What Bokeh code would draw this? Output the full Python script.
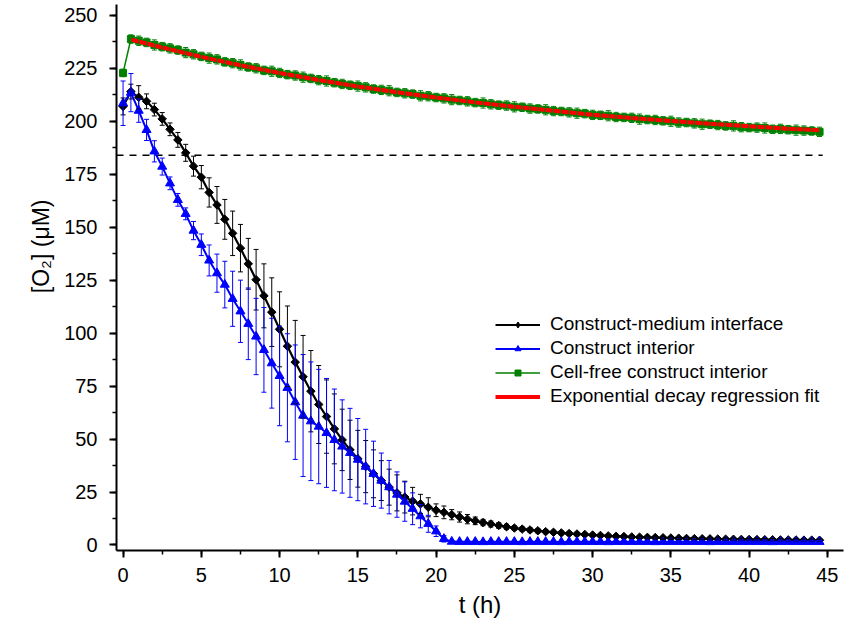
import math
from bokeh.plotting import figure
from bokeh.models import (ColumnDataSource, Whisker, TeeHead, Legend, LegendItem,
                          Range1d, SingleIntervalTicker, Title)
from bokeh.embed import file_html
from bokeh.resources import INLINE

# ---------------- data ----------------
t_h = [0.0, 0.5, 1.0, 1.5, 2.0, 2.5, 3.0, 3.5, 4.0, 4.5, 5.0, 5.5, 6.0, 6.5, 7.0, 7.5,
       8.0, 8.5, 9.0, 9.5, 10.0, 10.5, 11.0, 11.5, 12.0, 12.5, 13.0, 13.5, 14.0, 14.5,
       15.0, 15.5, 16.0, 16.5, 17.0, 17.5, 18.0, 18.5, 19.0, 19.5, 20.0, 20.5, 21.0,
       21.5, 22.0, 22.5, 23.0, 23.5, 24.0, 24.5, 25.0, 25.5, 26.0, 26.5, 27.0, 27.5,
       28.0, 28.5, 29.0, 29.5, 30.0, 30.5, 31.0, 31.5, 32.0, 32.5, 33.0, 33.5, 34.0,
       34.5, 35.0, 35.5, 36.0, 36.5, 37.0, 37.5, 38.0, 38.5, 39.0, 39.5, 40.0, 40.5,
       41.0, 41.5, 42.0, 42.5, 43.0, 43.5, 44.0, 44.5]

interface_uM = [207.0, 214.0, 211.3, 209.4, 205.5, 201.1, 196.2, 191.2, 185.1, 178.8,
                173.6, 166.4, 160.5, 153.7, 147.1, 140.1, 132.7, 125.2, 117.6, 109.9,
                101.8, 93.8, 86.3, 79.4, 72.6, 66.3, 60.6, 54.8, 49.6, 44.9,
                40.7, 37.0, 33.6, 30.4, 27.3, 24.6, 22.6, 20.7, 19.4, 17.8,
                16.4, 15.4, 14.3, 13.2, 12.2, 11.4, 10.6, 9.9, 9.2, 8.6,
                8.0, 7.5, 7.1, 6.7, 6.3, 6.0, 5.7, 5.4, 5.2, 5.0,
                4.7, 4.5, 4.3, 4.1, 4.0, 3.8, 3.7, 3.6, 3.5, 3.4,
                3.3, 3.2, 3.1, 3.0, 2.95, 2.9, 2.8, 2.75, 2.7, 2.65,
                2.6, 2.55, 2.5, 2.45, 2.4, 2.4, 2.35, 2.3, 2.3, 2.25]
interface_sd = [4.0, 3.5, 5.5, 3.5, 3.0, 3.0, 3.0, 3.5, 4.0, 4.7,
                5.5, 6.9, 8.7, 9.4, 10.5, 11.2, 12.0, 14.3, 15.1, 16.2,
                17.7, 19.0, 19.7, 19.5, 19.2, 18.4, 17.3, 16.5, 14.5, 14.0,
                13.4, 12.3, 11.3, 9.4, 8.5, 8.5, 7.5, 6.5, 4.5, 4.5,
                3.0, 3.0, 2.4, 2.4, 2.2, 1.8, 1.5, 1.4, 1.3, 1.2,
                1.1, 1.0, 1.0, 1.0, 0.9, 0.9, 0.9, 0.9, 0.8, 0.8,
                0.8, 0.8, 0.8, 0.7, 0.7, 0.7, 0.7, 0.7, 0.7, 0.7,
                0.6, 0.6, 0.6, 0.6, 0.6, 0.6, 0.6, 0.6, 0.6, 0.6,
                0.6, 0.6, 0.6, 0.6, 0.6, 0.6, 0.6, 0.6, 0.6, 0.6]

interior_uM = [208.5, 213.5, 205.0, 195.9, 185.8, 178.6, 170.7, 162.9, 156.3, 148.4,
               141.7, 134.3, 128.3, 122.9, 116.2, 110.3, 104.4, 98.4, 92.1, 85.8,
               79.8, 74.2, 67.4, 61.1, 58.4, 55.9, 52.9, 49.6, 46.5, 43.5,
               40.3, 37.0, 33.6, 30.4, 27.3, 23.8, 20.5, 17.1, 13.6, 10.0,
               6.5, 2.9, 1.6, 1.5, 1.5, 1.5, 1.4, 1.5, 1.5, 1.5,
               1.5, 1.4, 1.5, 1.5, 1.5, 1.5, 1.4, 1.5, 1.5, 1.5,
               1.5, 1.5, 1.4, 1.5, 1.5, 1.5, 1.5, 1.5, 1.4, 1.5,
               1.5, 1.5, 1.5, 1.5, 1.5, 1.4, 1.5, 1.5, 1.5, 1.5,
               1.5, 1.5, 1.5, 1.4, 1.5, 1.5, 1.5, 1.5, 1.5, 1.5]
interior_sd = [10.5, 9.0, 5.5, 5.0, 5.0, 4.0, 3.0, 3.0, 2.8, 4.3,
               5.1, 7.3, 9.0, 11.0, 13.0, 14.7, 16.9, 18.0, 20.0, 21.2,
               23.5, 25.5, 27.0, 28.8, 28.0, 27.0, 25.7, 24.0, 22.0, 21.0,
               19.4, 17.6, 15.4, 13.0, 12.6, 10.7, 9.3, 7.5, 5.5, 4.0,
               2.5, 1.5, 0.5, 0.4, 0.4, 0.4, 0.4, 0.4, 0.4, 0.4,
               0.4, 0.4, 0.4, 0.4, 0.4, 0.4, 0.4, 0.4, 0.4, 0.4,
               0.4, 0.4, 0.4, 0.4, 0.4, 0.4, 0.4, 0.4, 0.4, 0.4,
               0.4, 0.4, 0.4, 0.4, 0.4, 0.4, 0.4, 0.4, 0.4, 0.4,
               0.4, 0.4, 0.4, 0.4, 0.4, 0.4, 0.4, 0.4, 0.4, 0.4]

cellfree_uM = [222.8, 238.8, 238.0, 237.2, 236.0, 235.2, 234.4, 233.6, 232.4, 231.6,
               230.6, 229.8, 229.2, 228.0, 227.4, 226.6, 225.6, 225.0, 224.0, 223.6,
               222.8, 222.0, 221.6, 220.8, 220.2, 219.4, 219.0, 218.2, 217.6, 217.0,
               216.6, 216.0, 215.2, 214.8, 214.4, 213.6, 213.2, 212.8, 212.0, 211.8,
               211.2, 210.8, 210.2, 209.8, 209.4, 208.8, 208.6, 208.0, 207.6, 207.4,
               206.8, 206.6, 206.0, 205.8, 205.4, 204.8, 204.6, 204.2, 203.8, 203.6,
               203.0, 202.8, 202.6, 202.0, 201.8, 201.6, 201.0, 200.8, 200.6, 200.2,
               200.0, 199.4, 199.4, 199.0, 198.6, 198.6, 198.2, 197.8, 197.8, 197.2,
               197.0, 197.0, 196.8, 196.2, 196.4, 196.0, 195.8, 195.6, 195.4, 195.0]
cellfree_sd = [1.8, 2.0, 2.2, 2.0, 2.4, 2.0, 2.2, 2.0, 2.4, 2.2,
               2.0, 2.4, 2.2, 2.0, 2.2, 2.4, 2.0, 2.2, 2.0, 2.4,
               2.2, 2.0, 2.2, 2.4, 2.0, 2.2, 2.4, 2.0, 2.2, 2.0,
               2.4, 2.2, 2.0, 2.2, 2.4, 2.0, 2.2, 2.0, 2.4, 2.2,
               2.0, 2.2, 2.4, 2.0, 2.2, 2.0, 2.4, 2.2, 2.0, 2.2,
               2.4, 2.0, 2.2, 2.0, 2.4, 2.2, 2.0, 2.2, 2.4, 2.0,
               2.2, 2.0, 2.4, 2.2, 2.0, 2.2, 2.4, 2.0, 2.2, 2.0,
               2.4, 2.2, 2.0, 2.2, 2.4, 2.0, 2.2, 2.0, 2.4, 2.2,
               2.0, 2.2, 2.4, 2.0, 2.2, 2.0, 2.4, 2.2, 2.0, 2.2]

fit_t_h = [0.5, 2.5, 5.0, 7.5, 10.0, 12.5, 15.0, 17.5, 20.0, 22.5, 25.0, 27.5,
           30.0, 32.5, 35.0, 37.5, 40.0, 42.5, 44.5]
fit_uM = [238.6, 234.8, 230.4, 226.4, 222.8, 219.5, 216.4, 213.7, 211.2, 208.9,
          206.8, 204.9, 203.1, 201.5, 200.1, 198.8, 197.6, 196.5, 195.7]

threshold_uM = 184.0

labels = ["Construct-medium interface", "Construct interior",
          "Cell-free construct interior", "Exponential decay regression fit"]

# ---------------- figure ----------------
FONT = "Liberation Sans"
x0, x1 = -0.42, 46.03
p = figure(width=849, height=632, output_backend="svg", toolbar_location=None,
           x_range=Range1d(x0, x1), y_range=Range1d(-2.6, 255.1),
           min_border_left=116, min_border_right=6, min_border_top=4,
           min_border_bottom=82)
p.outline_line_color = None
p.xgrid.visible = False
p.ygrid.visible = False
p.background_fill_color = "white"
p.border_fill_color = "white"

p.xaxis.ticker = SingleIntervalTicker(interval=5, num_minor_ticks=2)
p.yaxis.ticker = SingleIntervalTicker(interval=25, num_minor_ticks=2)
for ax in (p.xaxis[0], p.yaxis[0]):
    ax.axis_line_width = 2
    ax.major_tick_line_width = 2
    ax.minor_tick_line_width = 1.5
    ax.major_tick_out = 7
    ax.major_tick_in = 0
    ax.minor_tick_out = 4
    ax.minor_tick_in = 0
    ax.major_label_text_font = FONT
    ax.major_label_text_font_size = "20px"
    ax.major_label_text_color = "black"
    ax.axis_label_text_font = FONT
    ax.axis_label_text_font_size = "24px"
    ax.axis_label_text_font_style = "normal"
    ax.axis_label_text_color = "black"
p.xaxis.axis_label = "t (h)"
p.xaxis.major_label_standoff = 10
p.yaxis.major_label_standoff = 12
p.xaxis.axis_label_standoff = 6

# y-axis title: sits above the middle of the axis, as in the reference
p.add_layout(Title(text="[O\u2082] (\u03bcM)", align="right", offset=195, standoff=16,
                   text_font=FONT, text_font_size="23px", text_font_style="normal",
                   text_color="black"), "left")

# dashed threshold line
p.line([x0, t_h[-1] + 0.2], [threshold_uM, threshold_uM], line_color="black",
       line_width=1.5, line_dash="7 6")


def add_series(y, sd, color, marker, size, lw, angle=0.0):
    src = ColumnDataSource(dict(t=t_h, y=y,
                                lo=[a - b for a, b in zip(y, sd)],
                                hi=[a + b for a, b in zip(y, sd)]))
    w = Whisker(base="t", lower="lo", upper="hi", source=src, dimension="height",
                line_color=color, line_width=1, level="glyph",
                upper_head=TeeHead(size=5, line_color=color, line_width=1),
                lower_head=TeeHead(size=5, line_color=color, line_width=1))
    p.add_layout(w)
    ln = p.line("t", "y", source=src, line_color=color, line_width=lw)
    sc = p.scatter("t", "y", source=src, marker=marker, size=size, angle=angle,
                   fill_color=color, line_color=color)
    return src, ln, sc


b_src, b_ln, b_sc = add_series(interface_uM, interface_sd, "black", "square", 6, 2.2,
                               math.pi / 4)
u_src, u_ln, u_sc = add_series(interior_uM, interior_sd, "#0000FF", "triangle", 9, 2)
g_src, g_ln, g_sc = add_series(cellfree_uM, cellfree_sd, "#008000", "square", 7, 1.5)
r_red = p.line(fit_t_h, fit_uM, line_color="#FF0000", line_width=4)

# hidden renderer used only so the key shows a diamond, as in the reference
b_key = p.scatter("t", "y", source=b_src, marker="diamond", fill_color="black",
                  line_color="black", visible=False)

legend = Legend(items=[LegendItem(label=labels[0], renderers=[b_ln, b_key]),
                       LegendItem(label=labels[1], renderers=[u_ln, u_sc]),
                       LegendItem(label=labels[2], renderers=[g_ln, g_sc]),
                       LegendItem(label=labels[3], renderers=[r_red])],
                location=(379, 143), click_policy="none")
legend.glyph_width = 45
legend.glyph_height = 15
legend.label_height = 20
legend.spacing = 2
legend.padding = 0
legend.margin = 0
legend.label_standoff = 10
legend.border_line_color = None
legend.background_fill_alpha = 0
legend.label_text_font = FONT
legend.label_text_font_size = "19px"
legend.label_text_color = "black"
p.add_layout(legend)

open("out.html", "w").write(file_html(p, INLINE))
